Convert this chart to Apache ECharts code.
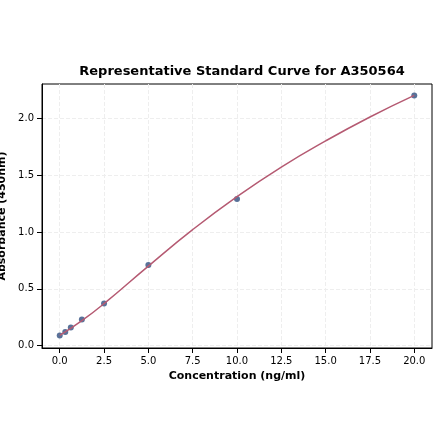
<!DOCTYPE html><html><head><meta charset="utf-8"><script src="https://cdn.jsdelivr.net/npm/echarts@6/dist/echarts.min.js"></script></head><body style="margin:0"><div id="c" style="width:440px;height:441px"></div><script>
const concX=[0,0.3125,0.625,1.25,2.5,5,10,20];
const absY=[0.09,0.12,0.16,0.23,0.37,0.71,1.29,2.2];
const curveX=[0,1.25,2.5,5,7.5,10,12.5,15,17.5,20];
const curveY=[0.09,0.22,0.37,0.70,1.02,1.31,1.57,1.80,2.01,2.2];
const xTicks=[0,2.5,5,7.5,10,12.5,15,17.5,20];
const yTicks=[0,0.5,1,1.5,2];
const ch=echarts.init(document.getElementById('c'));
const ax={color:'#000',fontSize:10,fontFamily:'DejaVu Sans'};
ch.setOption({animation:false,
title:{text:'Representative Standard Curve for A350564',left:237,top:60,textAlign:'center',textStyle:{fontSize:13,fontWeight:'bold',fontFamily:'DejaVu Sans',color:'#000'}},
grid:{left:42,right:8,top:84,bottom:93,containLabel:false,outerBoundsMode:'none',show:true,borderColor:'#000',borderWidth:1},
xAxis:{type:'value',min:-1,max:21,name:'Concentration (ng/ml)',nameLocation:'middle',nameGap:18,nameTextStyle:{fontSize:11,fontWeight:'bold',fontFamily:'DejaVu Sans',color:'#000'},
axisLine:{onZero:false,lineStyle:{color:'#000'}},axisTick:{customValues:xTicks,lineStyle:{color:'#000'}},axisLabel:{customValues:xTicks,formatter:v=>v.toFixed(1),...ax},
splitLine:{show:true,lineStyle:{color:'#eee',type:'dashed'}}},
yAxis:{type:'value',min:-0.02,max:2.3,name:'Absorbance (450nm)',nameLocation:'middle',nameGap:27,nameTextStyle:{fontSize:11,fontWeight:'bold',fontFamily:'DejaVu Sans',color:'#000'},
axisLine:{show:true,onZero:false,lineStyle:{color:'#000'}},axisTick:{show:true,customValues:yTicks,lineStyle:{color:'#000'}},axisLabel:{customValues:yTicks,formatter:v=>v.toFixed(1),...ax},
splitLine:{show:true,lineStyle:{color:'#eee',type:'dashed'}}},
series:[{type:'line',smooth:true,symbol:'none',data:curveX.map((x,i)=>[x,curveY[i]]),lineStyle:{color:'#b55a72',width:1.5}},
{type:'scatter',symbolSize:6,data:concX.map((x,i)=>[x,absY[i]]),itemStyle:{color:'#2f4f7f'}}]});
</script></body></html>
